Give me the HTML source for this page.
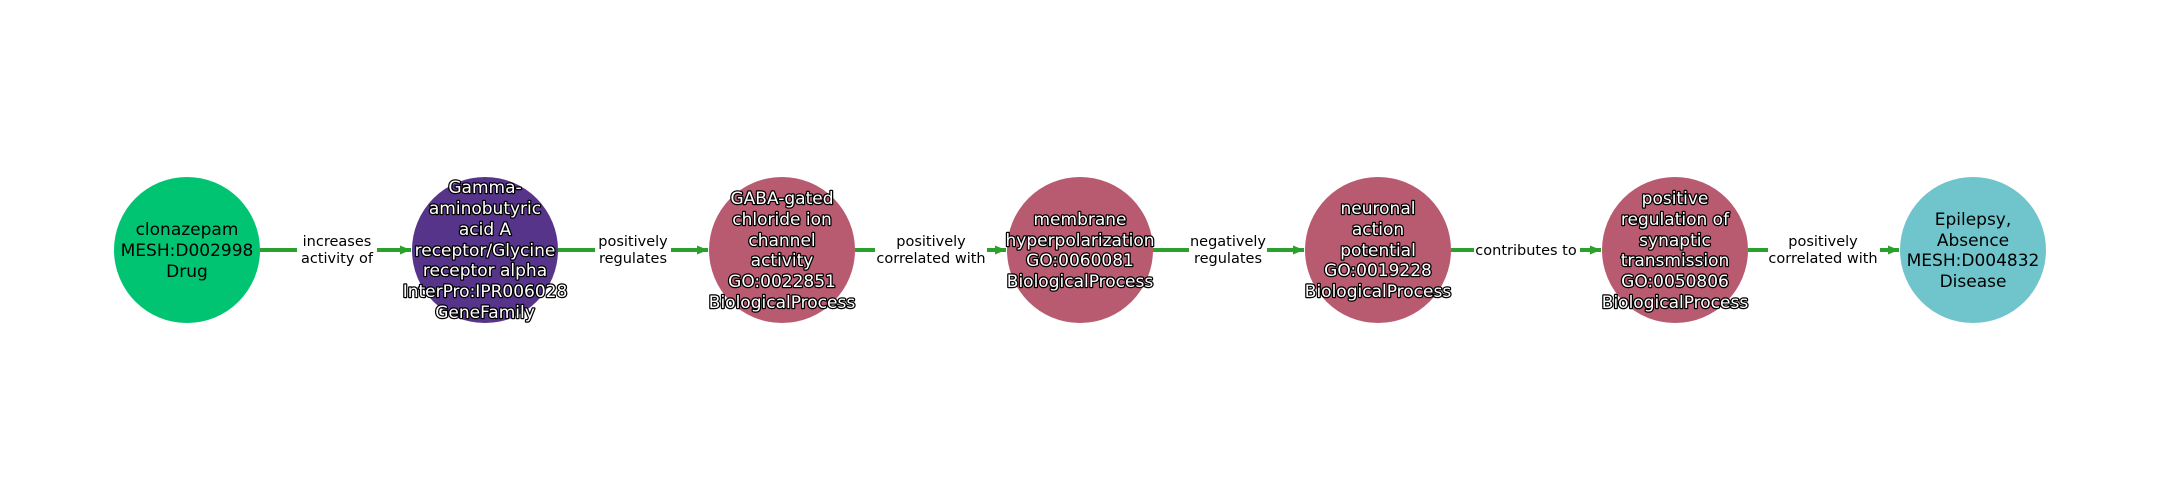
<!DOCTYPE html>
<html><head><style>
html,body{margin:0;padding:0;background:#fff;width:2160px;height:500px;overflow:hidden}
svg{display:block}
.n{font-family:"DejaVu Sans","Liberation Sans",sans-serif;font-size:17px;text-anchor:middle}
.w{fill:#fff;stroke:#000;stroke-width:2.5px;paint-order:stroke;stroke-linejoin:round}
.b{fill:#000}
.e{font-family:"DejaVu Sans","Liberation Sans",sans-serif;font-size:14.5px;text-anchor:middle;fill:#000}
</style></head><body>
<svg width="2160" height="500" viewBox="0 0 2160 500" xmlns="http://www.w3.org/2000/svg">
<defs><marker id="a" markerWidth="12" markerHeight="12" refX="11" refY="6" orient="auto" markerUnits="userSpaceOnUse"><path d="M0,1.5 L11,6 L0,10.5 z" fill="#2ca02c"/></marker></defs>
<g stroke="#2ca02c" stroke-width="4" fill="none">
<line x1="260" y1="250" x2="411" y2="250" marker-end="url(#a)"/>
<line x1="558" y1="250" x2="708" y2="250" marker-end="url(#a)"/>
<line x1="855" y1="250" x2="1006" y2="250" marker-end="url(#a)"/>
<line x1="1153" y1="250" x2="1304" y2="250" marker-end="url(#a)"/>
<line x1="1451" y1="250" x2="1601" y2="250" marker-end="url(#a)"/>
<line x1="1748" y1="250" x2="1899" y2="250" marker-end="url(#a)"/>
</g>
<g fill="#fff">
<rect x="297" y="230" width="80" height="40"/>
<rect x="595" y="230" width="76" height="40"/>
<rect x="875" y="230" width="112" height="40"/>
<rect x="1189" y="230" width="78" height="40"/>
<rect x="1474" y="241" width="106" height="18"/>
<rect x="1768" y="230" width="112" height="40"/>
</g>
<text class="e"><tspan x="337" y="246">increases</tspan><tspan x="337" y="263">activity of</tspan></text>
<text class="e"><tspan x="633" y="246">positively</tspan><tspan x="633" y="263">regulates</tspan></text>
<text class="e"><tspan x="931" y="246">positively</tspan><tspan x="931" y="263">correlated with</tspan></text>
<text class="e"><tspan x="1228" y="246">negatively</tspan><tspan x="1228" y="263">regulates</tspan></text>
<text class="e"><tspan x="1526" y="255">contributes to</tspan></text>
<text class="e"><tspan x="1823" y="246">positively</tspan><tspan x="1823" y="263">correlated with</tspan></text>
<circle cx="187" cy="250" r="73" fill="#00c472"/>
<circle cx="485" cy="250" r="73" fill="#56348a"/>
<circle cx="782" cy="250" r="73" fill="#b85b70"/>
<circle cx="1080" cy="250" r="73" fill="#b85b70"/>
<circle cx="1378" cy="250" r="73" fill="#b85b70"/>
<circle cx="1675" cy="250" r="73" fill="#b85b70"/>
<circle cx="1973" cy="250" r="73" fill="#6fc5cb"/>
<text class="n b"><tspan x="187" y="235">clonazepam</tspan><tspan x="187" y="256">MESH:D002998</tspan><tspan x="187" y="277">Drug</tspan></text>
<text class="n w"><tspan x="485" y="193">Gamma-</tspan><tspan x="485" y="214">aminobutyric</tspan><tspan x="485" y="235">acid A</tspan><tspan x="485" y="256">receptor/Glycine</tspan><tspan x="485" y="276">receptor alpha</tspan><tspan x="485" y="297">InterPro:IPR006028</tspan><tspan x="485" y="318">GeneFamily</tspan></text>
<text class="n w"><tspan x="782" y="204">GABA-gated</tspan><tspan x="782" y="225">chloride ion</tspan><tspan x="782" y="246">channel</tspan><tspan x="782" y="266">activity</tspan><tspan x="782" y="287">GO:0022851</tspan><tspan x="782" y="308">BiologicalProcess</tspan></text>
<text class="n w"><tspan x="1080" y="225">membrane</tspan><tspan x="1080" y="246">hyperpolarization</tspan><tspan x="1080" y="266">GO:0060081</tspan><tspan x="1080" y="287">BiologicalProcess</tspan></text>
<text class="n w"><tspan x="1378" y="214">neuronal</tspan><tspan x="1378" y="235">action</tspan><tspan x="1378" y="256">potential</tspan><tspan x="1378" y="276">GO:0019228</tspan><tspan x="1378" y="297">BiologicalProcess</tspan></text>
<text class="n w"><tspan x="1675" y="204">positive</tspan><tspan x="1675" y="225">regulation of</tspan><tspan x="1675" y="246">synaptic</tspan><tspan x="1675" y="266">transmission</tspan><tspan x="1675" y="287">GO:0050806</tspan><tspan x="1675" y="308">BiologicalProcess</tspan></text>
<text class="n b"><tspan x="1973" y="225">Epilepsy,</tspan><tspan x="1973" y="246">Absence</tspan><tspan x="1973" y="266">MESH:D004832</tspan><tspan x="1973" y="287">Disease</tspan></text>
</svg>
</body></html>
